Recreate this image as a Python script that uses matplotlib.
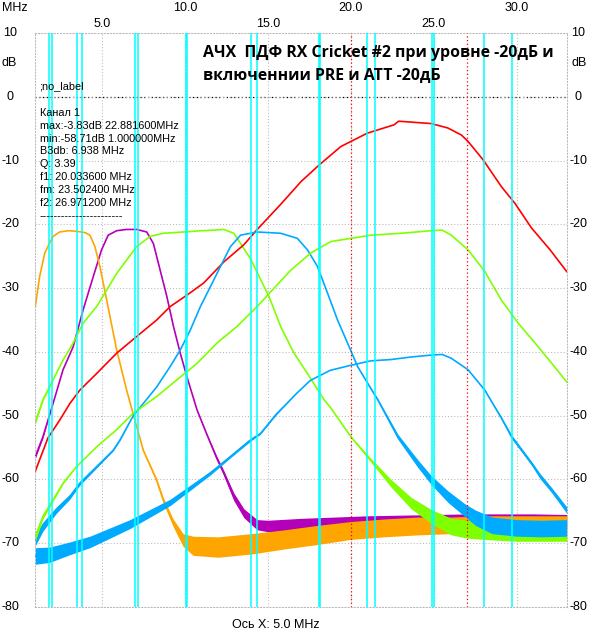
import matplotlib
matplotlib.use("Agg")
import matplotlib.pyplot as plt
import numpy as np
from matplotlib.transforms import blended_transform_factory

# --- measured traces (MHz, dB); *_noise = half width of the noisy band ---
orange_f = [1.0, 1.26, 1.57, 1.87, 2.07, 2.47, 3.0, 3.5, 4.0, 4.29, 4.59, 4.89, 5.3, 5.9, 6.5, 7.1, 7.5,
            8.3, 8.7, 9.3, 9.9, 10.5, 12.0, 14.0, 16.0, 18.0, 20.0, 22.0, 24.0, 26.0, 28.0, 30.0, 33.0]
orange_db = [-32.9, -28.2, -24.5, -22.9, -21.9, -21.2, -21.0, -21.1, -21.3, -21.7, -23.5, -26.6, -31.9, -39.7,
             -46.0, -51.7, -55.4, -60.1, -63.2, -66.8, -69.5, -70.4, -70.6, -70.1, -69.4, -68.7, -68.0, -67.6,
             -67.3, -67.2, -67.0, -67.0, -67.0]
orange_noise = [0, 0, 0, 0, 0, 0, 0, 0, 0, 0, 0, 0, 0, 0, 0, 0, 0.1, 0.3, 0.4, 0.6, 1.0, 1.5, 1.6, 1.6, 1.5,
                1.5, 1.4, 1.4, 1.4, 1.3, 1.3, 1.3, 1.3]

purple_f = [1.0, 1.46, 2.0, 2.67, 3.28, 3.88, 4.49, 4.99, 5.39, 5.9, 6.5, 7.1, 7.71, 8.11, 8.52, 8.92, 9.32,
            9.73, 10.13, 10.74, 11.34, 11.9, 12.35, 12.95, 13.56, 14.36, 15.0, 17.0, 19.0, 21.0, 23.0, 25.0,
            27.0, 29.0, 31.0, 33.0]
purple_db = [-56.4, -53.3, -48.7, -42.8, -39.2, -33.4, -28.2, -24.0, -21.7, -21.0, -20.8, -20.8, -21.2, -23.0,
             -27.2, -31.3, -36.0, -40.2, -43.9, -49.1, -53.0, -56.5, -59.0, -62.7, -65.3, -67.1, -67.3, -67.1,
             -66.9, -66.7, -66.6, -66.5, -66.4, -66.4, -66.4, -66.5]
purple_noise = [0.3, 0.2] + [0] * 18 + [0.1, 0.3, 0.4, 0.6, 0.7, 0.8, 0.9, 1.0, 1.0, 1.0] + [1.0] * 6

greenA_f = [1.0, 1.46, 2.07, 2.67, 3.28, 3.88, 4.69, 5.3, 5.9, 6.5, 7.1, 7.91, 8.72, 9.93, 11.0, 11.84, 12.35,
            12.95, 13.36, 13.96, 14.56, 15.07, 15.77, 16.58, 17.39, 18.39, 18.8, 20.0, 21.21, 22.42, 23.63,
            24.84, 26.05, 27.0, 28.0, 30.0, 33.0]
greenA_db = [-51.0, -47.5, -44.4, -41.3, -38.6, -35.5, -32.9, -30.3, -27.7, -25.6, -23.5, -21.9, -21.4, -21.2,
             -21.0, -20.9, -20.8, -21.4, -23.0, -25.4, -28.6, -31.3, -36.0, -40.2, -43.4, -47.5, -48.8, -53.3,
             -57.0, -60.6, -63.7, -65.8, -67.4, -67.8, -68.0, -68.3, -68.3]
greenA_noise = [0.3, 0.2] + [0] * 25 + [0.1, 0.3, 0.6, 0.9, 1.1, 1.3, 1.4, 1.4, 1.4, 1.4]

red_f = [1.0, 1.76, 2.47, 3.08, 3.68, 4.69, 5.9, 7.1, 8.31, 9.12, 10.13, 11.14, 12.35, 13.56, 14.4, 15.8, 17.0,
         18.09, 19.4, 21.0, 22.6, 22.88, 24.84, 25.85, 26.66, 27.06, 27.97, 29.07, 29.88, 30.89, 32.0, 33.0]
red_db = [-58.7, -53.5, -50.7, -48.1, -46.0, -43.4, -40.2, -37.6, -35.0, -32.9, -31.1, -29.2, -25.9, -23.2,
          -20.7, -16.8, -13.3, -10.7, -7.8, -5.7, -4.4, -3.83, -4.2, -4.9, -6.0, -7.0, -9.9, -14.1, -16.7,
          -20.6, -24.0, -27.4]
red_noise = [0] * 32

blueA_f = [1.0, 1.46, 2.27, 3.08, 3.68, 4.69, 5.7, 6.1, 6.9, 7.5, 8.31, 9.12, 9.73, 10.33, 10.94, 11.54, 12.15,
           12.75, 13.36, 14.36, 15.77, 16.78, 17.39, 17.99, 18.6, 19.2, 19.8, 20.41, 21.01, 21.62, 22.83,
           24.03, 24.84, 25.85, 26.86, 27.5, 28.5, 30.0, 31.5, 33.0]
blueA_db = [-69.5, -67.4, -64.8, -62.7, -60.6, -58.0, -55.4, -53.8, -50.0, -48.1, -45.5, -42.3, -39.7, -36.6,
            -32.9, -29.8, -26.6, -23.5, -21.7, -21.2, -21.4, -22.2, -24.0, -26.6, -30.8, -35.0, -38.6, -42.3,
            -44.9, -47.5, -53.3, -57.5, -60.1, -62.7, -64.8, -66.0, -67.2, -67.6, -67.7, -67.6]
blueA_noise = [0.9, 0.7, 0.5, 0.4, 0.3, 0.2, 0.1, 0.1] + [0] * 20 + [0.1, 0.2, 0.4, 0.6, 0.7, 0.9, 1.0, 1.2,
                                                                    1.3, 1.3, 1.3, 1.3]

greenB_f = [1.0, 1.46, 2.07, 2.67, 3.48, 4.69, 5.9, 6.9, 8.31, 9.52, 10.74, 11.95, 13.15, 14.36, 15.17, 16.38,
            17.59, 18.8, 20.0, 21.21, 23.03, 24.84, 25.5, 26.05, 27.06, 28.07, 29.07, 30.08, 31.09, 32.1, 33.0]
greenB_db = [-69.0, -65.8, -63.2, -60.6, -58.0, -54.9, -52.2, -49.6, -47.0, -44.4, -41.8, -38.6, -36.0, -32.9,
             -30.6, -27.2, -24.5, -22.7, -22.2, -21.7, -21.4, -21.0, -20.9, -21.7, -24.0, -27.4, -31.9, -35.5,
             -38.6, -41.8, -44.7]
greenB_noise = [0.7, 0.4, 0.2, 0.1] + [0] * 27

blueB_f = [1.0, 1.87, 3.08, 4.29, 5.5, 6.7, 7.91, 9.12, 10.33, 11.54, 12.75, 13.96, 14.56, 15.5, 16.74, 17.55,
           18.75, 20.0, 21.21, 22.42, 23.63, 24.84, 25.5, 26.05, 27.06, 28.07, 29.07, 29.68, 30.89, 31.4, 32.1,
           33.0]
blueB_db = [-72.0, -71.8, -70.8, -69.8, -68.4, -67.0, -65.3, -63.6, -61.3, -59.0, -56.4, -53.8, -52.8, -49.8,
            -46.5, -44.5, -42.9, -42.1, -41.4, -41.2, -40.8, -40.5, -40.4, -41.0, -42.8, -46.0, -50.4, -53.3,
            -57.5, -59.5, -61.7, -64.8]
blueB_noise = [1.3, 1.2, 1.0, 0.9, 0.8, 0.7, 0.6, 0.5, 0.4, 0.3, 0.2, 0.2, 0.1, 0.1] + [0] * 11 + \
              [0.1, 0.2, 0.3, 0.3, 0.4, 0.4, 0.5]

# amateur band edges (cyan) and f1/f2 markers (red)
band_edges = [1.81, 2.0, 3.5, 3.8, 7.0, 7.2, 10.1, 10.15, 14.0, 14.35, 18.068, 18.168,
              21.0, 21.45, 24.89, 24.99, 28.0, 29.7]
marker_f = [20.0336, 26.9712]

x_major = [10, 20, 30]
x_minor = [5, 15, 25]
y_ticks = list(range(10, -81, -10))

info_lines = ["Канал 1", "max:-3.83dB 22.881600MHz", "min:-58.71dB 1.000000MHz", "B3db: 6.938 MHz",
              "Q: 3.39", "f1: 20.033600 MHz", "fm: 23.502400 MHz", "f2: 26.971200 MHz",
              "-----------------------"]
title_lines = ["АЧХ  ПДФ RX Cricket #2 при уровне -20дБ и", "включеннии PRE и ATT -20дБ"]

# draw order: purple floor sits under orange, blue on top at the right
traces = [
    (purple_f, purple_db, purple_noise, "#b400b8"),
    (orange_f, orange_db, orange_noise, "#ffa500"),
    (greenA_f, greenA_db, greenA_noise, "#80ff00"),
    (red_f, red_db, red_noise, "#ff0000"),
    (blueA_f, blueA_db, blueA_noise, "#00aaff"),
    (greenB_f, greenB_db, greenB_noise, "#80ff00"),
    (blueB_f, blueB_db, blueB_noise, "#00aaff"),
]

W, H = 601, 643
fig = plt.figure(figsize=(W / 100, H / 100), dpi=100)
L, R, T, B = 35.3, 566.7, 33, 607
ax = fig.add_axes([L / W, 1 - B / H, (R - L) / W, (B - T) / H])
ax.set_xlim(1, 33)
ax.set_ylim(-80, 10)

dot = (0, (1, 2))
grid_c = "#b8b8b8"
ax.set_xticks(x_minor + x_major)
ax.set_yticks(y_ticks)
ax.grid(True, color=grid_c, linestyle=dot, lw=0.75)
ax.tick_params(length=0, labelleft=False, labelbottom=False)
for s in ax.spines.values():
    s.set_linestyle(dot)
    s.set_color(grid_c)
    s.set_linewidth(0.75)
ax.axhline(0, color="black", ls=dot, lw=0.9, zorder=1)

for i, (f, db, nz, c) in enumerate(traces):
    f, db, nz = np.array(f), np.array(db), np.array(nz)
    ax.fill_between(f, db - nz, db + nz, color=c, lw=0, zorder=2 + i * 0.1)
    ax.plot(f, db, color=c, lw=1.2, zorder=2 + i * 0.1)

for fx in band_edges:
    ax.axvline(fx, color="#00ffff", lw=1.1, zorder=5)
for fx in marker_f:
    ax.axvline(fx, color="red", ls=dot, lw=0.9, zorder=5)

tick_font = dict(family="Liberation Sans", fontsize=9, color="black")
tx = blended_transform_factory(ax.transData, fig.transFigure)
for v in x_major:
    fig.text(v, 1 - 8 / H, f"{v:.1f}", transform=tx, ha="center", va="center", **tick_font)
for v in x_minor:
    fig.text(v, 1 - 24 / H, f"{v:.1f}", transform=tx, ha="center", va="center", **tick_font)
fig.text(2 / W, 1 - 8 / H, "MHz", ha="left", va="center", **tick_font)

ty = blended_transform_factory(fig.transFigure, ax.transData)
for v in y_ticks:
    fig.text(10 / W, v, str(v), transform=ty, ha="center", va="center", **tick_font)
    fig.text(578 / W, v, str(v), transform=ty, ha="center", va="center", **tick_font)
fig.text(9 / W, 1 - 63 / H, "dB", ha="center", va="center", **tick_font)
fig.text(579 / W, 1 - 63 / H, "dB", ha="center", va="center", **tick_font)

fig.text(276 / W, 1 - 625 / H, "Ось X: 5.0 MHz", ha="center", va="center", **tick_font)

info_font = dict(family="Liberation Sans", fontsize=7.8, color="black")
fig.text(39.5 / W, 1 - 86 / H, ";no_label", ha="left", va="center", **info_font)
for i, line in enumerate(info_lines):
    fig.text(39.5 / W, 1 - (112.7 + i * 12.9) / H, line, ha="left", va="center", **info_font)

for i, line in enumerate(title_lines):
    fig.text(203 / W, 1 - (57 + i * 23) / H, line, ha="left", va="baseline",
             family="Open Sans", fontweight="bold", fontsize=11.4, color="black")

fig.savefig("out.png", dpi=100)
